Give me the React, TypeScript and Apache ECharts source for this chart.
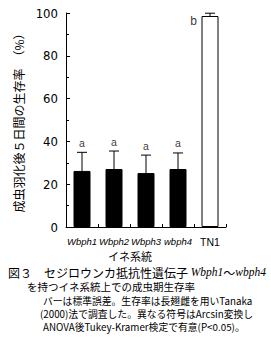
import React, { useEffect, useRef } from "react";
import * as echarts from "echarts";

const categories = ["Wbph1", "Wbph2", "Wbph3", "wbph4", "TN1"];
const isGene = [true, true, true, true, false];
const survival = [26.2, 27.1, 25.2, 27.1, 98.6];
const stdErr = [8.7, 8.4, 8.4, 7.5, 1.3];
const sigLetters = ["a", "a", "a", "a", "b"];
const yTicks = { min: 0, max: 100, interval: 20 };

const yName = "成虫羽化後５日間の生存率　（%）";
const xName = "イネ系統";
const captionNotes = [
  "バーは標準誤差。生存率は長翅雌を用いTanaka",
  "(2000)法で調査した。異なる符号はArcsin変換し",
  "ANOVA後Tukey-Kramer検定で有意(P<0.05)。",
];

const JP = "'Noto Sans CJK JP', sans-serif";
const NUM = "'Liberation Sans Narrow', 'DejaVu Sans Condensed', 'Liberation Sans', sans-serif";

export default function App() {
  const ref = useRef<HTMLDivElement>(null);
  useEffect(() => {
    if (!ref.current) return;
    const chart = echarts.init(ref.current, null, { renderer: "svg" });
    const gridTop = 13;
    chart.setOption({
      animation: false,
      backgroundColor: "#fff",
      color: ["#000"],
      grid: { left: 66, right: 45, top: gridTop, bottom: 125, containLabel: false, outerBoundsMode: "none" },
      xAxis: {
        type: "category",
        data: categories,
        axisLine: { lineStyle: { color: "#000", width: 1 } },
        axisTick: { show: true, inside: true, length: 3, lineStyle: { color: "#000" } },
        axisLabel: {
          margin: 9,
          interval: 0,
          formatter: (v: string) => {
            const i = categories.indexOf(v);
            return isGene[i] ? `{i|${v}}` : `{n|${v}}`;
          },
          rich: {
            i: { fontStyle: "italic", fontSize: 9.5, color: "#000", fontFamily: "'Liberation Sans', sans-serif" },
            n: { fontSize: 10.5, color: "#000", fontFamily: "'Liberation Sans', sans-serif" },
          },
        },
      },
      yAxis: {
        type: "value",
        min: yTicks.min,
        max: yTicks.max,
        interval: yTicks.interval,
        name: yName,
        nameLocation: "middle",
        nameGap: 33,
        nameRotate: 90,
        nameTextStyle: { fontSize: 12, color: "#000", fontFamily: JP },
        axisLine: { show: true, lineStyle: { color: "#000", width: 1 } },
        axisTick: { show: true, inside: true, length: 4, lineStyle: { color: "#000" } },
        minorTick: { show: true, splitNumber: 2, length: 3, lineStyle: { color: "#000" } },
        splitLine: { show: false },
        axisLabel: { margin: 8, fontSize: 13, color: "#000", fontFamily: NUM },
      },
      series: [
        {
          type: "bar",
          barWidth: 17,
          data: survival.map((v, i) => ({
            value: v,
            itemStyle: {
              color: isGene[i] ? "#000" : "#fff",
              borderColor: "#000",
              borderWidth: 1,
            },
          })),
          z: 2,
        },
        {
          type: "custom",
          z: 3,
          itemStyle: { color: "#000" },
          data: survival.map((v, i) => [i, v, stdErr[i]]),
          renderItem: (params: any, api: any) => {
            const idx = api.value(0);
            const val = api.value(1);
            const err = api.value(2);
            const base = api.coord([idx, val]);
            const top = api.coord([idx, val + err]);
            const cap = 5;
            return {
              type: "group",
              children: [
                {
                  type: "line",
                  shape: { x1: base[0], y1: base[1], x2: top[0], y2: top[1] },
                  style: { stroke: "#000", lineWidth: 1 },
                },
                {
                  type: "line",
                  shape: { x1: top[0] - cap, y1: top[1], x2: top[0] + cap, y2: top[1] },
                  style: { stroke: "#000", lineWidth: 1 },
                },
              ],
            };
          },
        },
        {
          type: "scatter",
          z: 4,
          symbolSize: 0,
          itemStyle: { color: "#000" },
          silent: true,
          data: survival.map((v, i) => {
            const nearTop = v + stdErr[i] > 95;
            return {
              value: nearTop ? [i, v] : [i, v + stdErr[i]],
              label: nearTop
                ? { show: true, position: "left", distance: 13, offset: [0, 5], fontSize: 12 }
                : { show: true, position: "top", distance: 4, fontSize: 10.5 },
            };
          }),
          label: {
            show: true,
            color: "#000",
            fontFamily: "'Liberation Sans', sans-serif",
            formatter: (p: any) => sigLetters[p.dataIndex],
          },
        },
      ],
      graphic: [
        {
          type: "text",
          x: 130,
          y: 256,
          style: { text: xName, fontSize: 11, lineHeight: 10, fontFamily: JP, fill: "#000", align: "center", verticalAlign: "middle" },
        },
        {
          type: "text",
          x: 8,
          y: 272,
          style: {
            text: "{a|図３　セジロウンカ抵抗性遺伝子 }{i|Wbph1}{a|～}{i|wbph4}",
            verticalAlign: "middle",
            rich: {
              a: { fontSize: 12, lineHeight: 12, fontFamily: JP, fill: "#000" },
              i: { fontSize: 11.5, lineHeight: 12, fontStyle: "italic", fontFamily: "'Liberation Serif', serif", fill: "#000" },
            },
          },
        },
        {
          type: "text",
          x: 27,
          y: 286.5,
          style: {
            text: "を持つイネ系統上での成虫期生存率",
            fontSize: 10.5,
            lineHeight: 10.5,
            fontFamily: JP,
            fill: "#000",
            verticalAlign: "middle",
          },
        },
        ...captionNotes.map((t, i) => ({
          type: "text",
          x: i === 1 ? 40 : 43,
          y: 301 + i * 13,
          style: {
            text: t,
            fontSize: 9.8,
            lineHeight: 11,
            fontFamily: JP,
            fill: "#000",
            verticalAlign: "middle",
          },
        })),
      ],
    });
    return () => chart.dispose();
  }, []);
  return (
    <div
      ref={ref}
      style={{ position: "fixed", left: 0, top: 0, width: 271, height: 352 }}
    />
  );
}
